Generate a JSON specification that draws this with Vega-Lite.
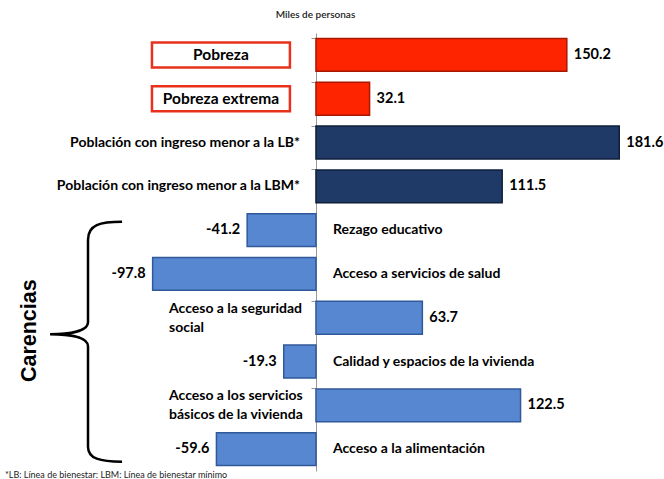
{
  "$schema": "https://vega.github.io/schema/vega-lite/v6.json",
  "width": 664,
  "height": 438,
  "autosize": {"type": "none"},
  "padding": {"top": 33, "left": 0, "right": 0, "bottom": 8},
  "background": "white",
  "config": {"view": {"stroke": null}, "font": "Lato",
    "locale": {"number": {"decimal": ".", "thousands": ",", "grouping": [3], "currency": ["$", ""], "minus": "-"}}},
  "title": {"text": "*LB: Línea de bienestar: LBM: Línea de bienestar mínimo", "orient": "bottom", "anchor": "start", "frame": "group", "offset": 0, "dx": 5, "fontSize": 9, "fontWeight": "normal", "font": "Lato", "color": "#222"},
  "data": {"values": [
    {"cat": "Pobreza", "label": "Pobreza", "value": 150.2, "group": "Pobreza"},
    {"cat": "Pobreza extrema", "label": "Pobreza extrema", "value": 32.1, "group": "Pobreza"},
    {"cat": "Población con ingreso menor a la LB*", "label": "Población con ingreso menor a la LB*", "value": 181.6, "group": "Ingreso"},
    {"cat": "Población con ingreso menor a la LBM*", "label": "Población con ingreso menor a la LBM*", "value": 111.5, "group": "Ingreso"},
    {"cat": "Rezago educativo", "label": "Rezago educativo", "value": -41.2, "group": "Carencias"},
    {"cat": "Acceso a servicios de salud", "label": "Acceso a servicios de salud", "value": -97.8, "group": "Carencias"},
    {"cat": "Acceso a la seguridad social", "label": "Acceso a la seguridad\nsocial", "value": 63.7, "group": "Carencias"},
    {"cat": "Calidad y espacios de la vivienda", "label": "Calidad y espacios de la vivienda", "value": -19.3, "group": "Carencias"},
    {"cat": "Acceso a los servicios básicos de la vivienda", "label": "Acceso a los servicios\nbásicos de la vivienda", "value": 122.5, "group": "Carencias"},
    {"cat": "Acceso a la alimentación", "label": "Acceso a la alimentación", "value": -59.6, "group": "Carencias"}
  ]},
  "encoding": {
    "y": {"field": "cat", "type": "nominal", "sort": null,
      "scale": {"paddingInner": 0.25, "paddingOuter": 0.125},
      "axis": {"title": null, "labels": false, "ticks": true, "tickSize": 5, "tickColor": "#999", "domain": true, "domainColor": "#999", "bandPosition": 0, "offset": -316, "grid": false}}
  },
  "layer": [
    {
      "mark": {"type": "bar", "strokeWidth": 1.5},
      "encoding": {
        "x": {"field": "value", "type": "quantitative",
          "scale": {"domain": [-189.2, 208.4], "nice": false, "zero": false},
          "axis": {"orient": "top", "title": "Miles de personas", "labels": false, "ticks": false, "domain": false, "grid": false, "titleX": 315, "titleY": -19, "titleBaseline": "middle", "titleFontSize": 10, "titleFontWeight": 600, "titleFont": "Lato", "titleColor": "#222"}},
        "fill": {"field": "group", "type": "nominal", "legend": null,
          "scale": {"domain": ["Pobreza", "Ingreso", "Carencias"], "range": ["#FF2400", "#1F3A66", "#5787D0"]}},
        "stroke": {"field": "group", "type": "nominal", "legend": null,
          "scale": {"domain": ["Pobreza", "Ingreso", "Carencias"], "range": ["#A81800", "#0F1F3A", "#30599A"]}}
      }
    },
    {
      "transform": [{"filter": {"field": "group", "equal": "Pobreza"}}],
      "mark": {"type": "bar", "height": 25, "fill": "white", "stroke": "#E8301C", "strokeWidth": 2.5},
      "encoding": {"x": {"datum": -98.2}, "x2": {"datum": -15.6}}
    },
    {
      "transform": [{"filter": {"field": "group", "equal": "Pobreza"}}],
      "mark": {"type": "text", "align": "center", "baseline": "middle", "font": "Lato", "fontWeight": "bold", "fontSize": 15.5, "color": "black"},
      "encoding": {"x": {"datum": -56.9}, "text": {"field": "label"}}
    },
    {
      "transform": [{"filter": {"field": "group", "equal": "Ingreso"}}],
      "mark": {"type": "text", "align": "right", "baseline": "middle", "dx": -16, "font": "Lato", "fontWeight": "bold", "fontSize": 14, "color": "black"},
      "encoding": {"x": {"datum": 0}, "text": {"field": "label"}}
    },
    {
      "transform": [{"filter": "datum.value < 0"}],
      "mark": {"type": "text", "align": "left", "baseline": "middle", "dx": 17, "font": "Lato", "fontWeight": "bold", "fontSize": 14, "color": "black"},
      "encoding": {"x": {"datum": 0}, "text": {"field": "label"}}
    },
    {
      "transform": [{"filter": {"field": "cat", "oneOf": ["Acceso a la seguridad social", "Acceso a los servicios básicos de la vivienda"]}}],
      "mark": {"type": "text", "align": "left", "baseline": "middle", "dy": -9, "lineBreak": "\n", "lineHeight": 19, "font": "Lato", "fontWeight": "bold", "fontSize": 14, "color": "black"},
      "encoding": {"x": {"datum": -88}, "text": {"field": "label"}}
    },
    {
      "transform": [{"filter": "datum.value > 0"}],
      "mark": {"type": "text", "align": "left", "baseline": "middle", "dx": 7, "font": "Lato", "fontWeight": "bold", "fontSize": 14.5, "color": "black"},
      "encoding": {"x": {"field": "value", "type": "quantitative"}, "text": {"field": "value", "type": "quantitative", "format": ".1f"}}
    },
    {
      "transform": [{"filter": "datum.value < 0"}],
      "mark": {"type": "text", "align": "right", "baseline": "middle", "dx": -7, "font": "Lato", "fontWeight": "bold", "fontSize": 14.5, "color": "black"},
      "encoding": {"x": {"field": "value", "type": "quantitative"}, "text": {"field": "value", "type": "quantitative", "format": ".1f"}}
    },
    {
      "transform": [{"filter": {"field": "cat", "equal": "Acceso a la seguridad social"}}],
      "mark": {"type": "point", "shape": "M0.227,-0.64 C0.08,-0.64 0,-0.62 0,-0.52 L0,0.03 C0,0.09 -0.12,0.11 -0.253,0.11 C-0.12,0.11 0,0.13 0,0.19 L0,0.86 C0,0.94 0.08,0.96 0.227,0.96", "size": 90000, "filled": false, "stroke": "black", "strokeWidth": 2.5, "opacity": 1},
      "encoding": {"x": {"datum": -136.5}}
    },
    {
      "transform": [{"filter": {"field": "cat", "equal": "Acceso a la seguridad social"}}],
      "mark": {"type": "text", "text": "Carencias", "angle": 270, "align": "center", "baseline": "middle", "dx": -13, "font": "Liberation Sans", "fontWeight": "bold", "fontSize": 21.5, "color": "black"},
      "encoding": {"x": {"datum": -171.3}}
    }
  ]
}
